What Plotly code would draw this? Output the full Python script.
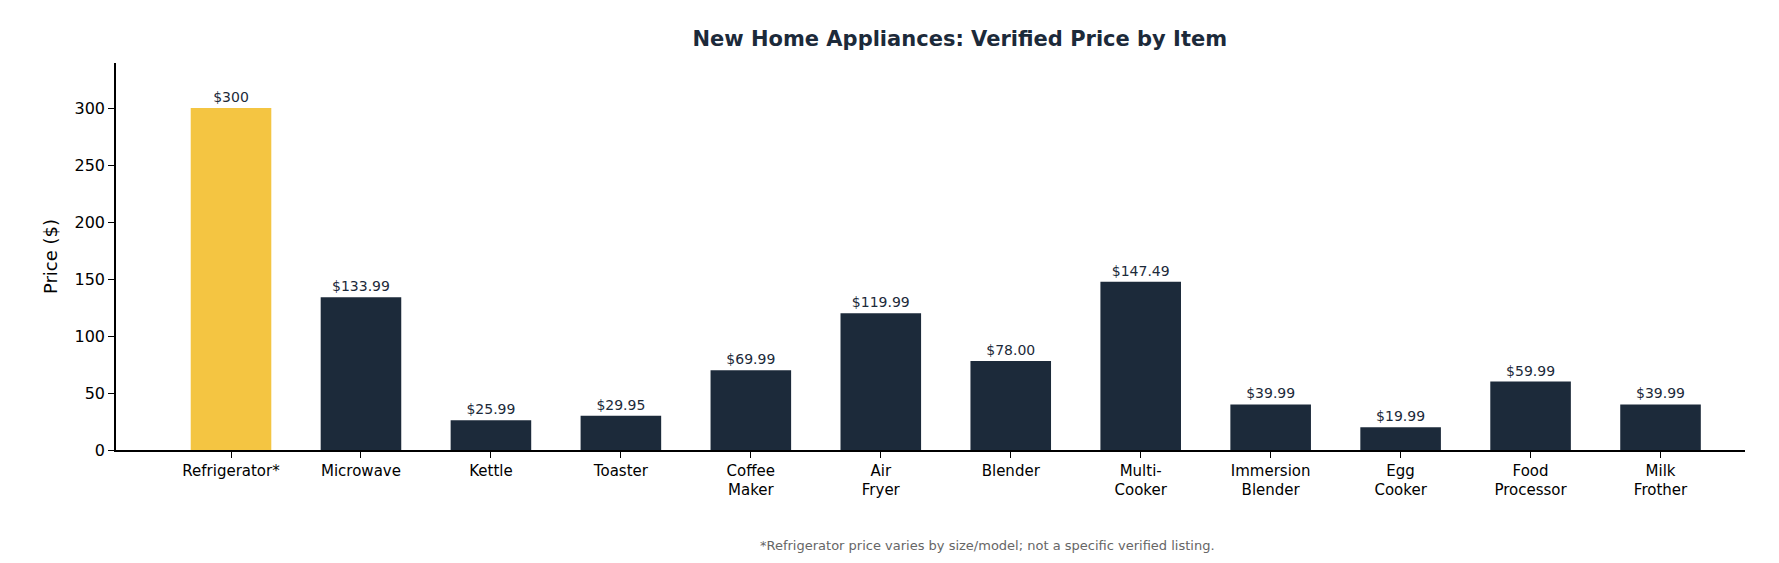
import plotly.graph_objects as go

items = ["Refrigerator*", "Microwave", "Kettle", "Toaster", "Coffee<br>Maker", "Air<br>Fryer",
         "Blender", "Multi-<br>Cooker", "Immersion<br>Blender", "Egg<br>Cooker", "Food<br>Processor", "Milk<br>Frother"]
prices = [300, 133.99, 25.99, 29.95, 69.99, 119.99, 78.00, 147.49, 39.99, 19.99, 59.99, 39.99]
labels = ["$300", "$133.99", "$25.99", "$29.95", "$69.99", "$119.99", "$78.00", "$147.49",
          "$39.99", "$19.99", "$59.99", "$39.99"]
colors = ["#F4C542"] + ["#1C2A3A"] * 11
xs = list(range(len(items)))

fig = go.Figure(go.Bar(x=xs, y=prices, width=0.62, marker=dict(color=colors, line=dict(width=0)),
                       text=labels, textposition="outside", cliponaxis=False,
                       textfont=dict(size=14, color="#1C2A3A")))
fig.update_layout(
    width=1779, height=563, plot_bgcolor="white", paper_bgcolor="white",
    font=dict(family="DejaVu Sans", color="black"),
    margin=dict(l=108, r=42, t=55, b=121),
    title=dict(text="<b>New Home Appliances: Verified Price by Item</b>", x=0.535, xanchor="center",
               y=0.945, yanchor="middle", font=dict(size=21, color="#1C2A3A")),
    showlegend=False,
    annotations=[dict(text="*Refrigerator price varies by size/model; not a specific verified listing.",
                      xref="paper", yref="paper", x=0.535, y=-0.248, yanchor="middle", showarrow=False,
                      font=dict(size=13, color="#666666"))],
)
fig.update_xaxes(tickvals=xs, ticktext=items, range=[-0.885, 11.65], showline=True, linecolor="black",
                 linewidth=1.5, ticks="outside", ticklen=6, tickcolor="black", tickfont=dict(size=15),
                 showgrid=False)
fig.update_yaxes(range=[0, 339.5], tickvals=[0, 50, 100, 150, 200, 250, 300], showline=True,
                 linecolor="black", linewidth=1.5, ticks="outside", ticklen=6, tickcolor="black",
                 tickfont=dict(size=16), showgrid=False, zeroline=False,
                 title=dict(text="Price ($)", font=dict(size=18), standoff=12))
fig.write_html("out.html")
